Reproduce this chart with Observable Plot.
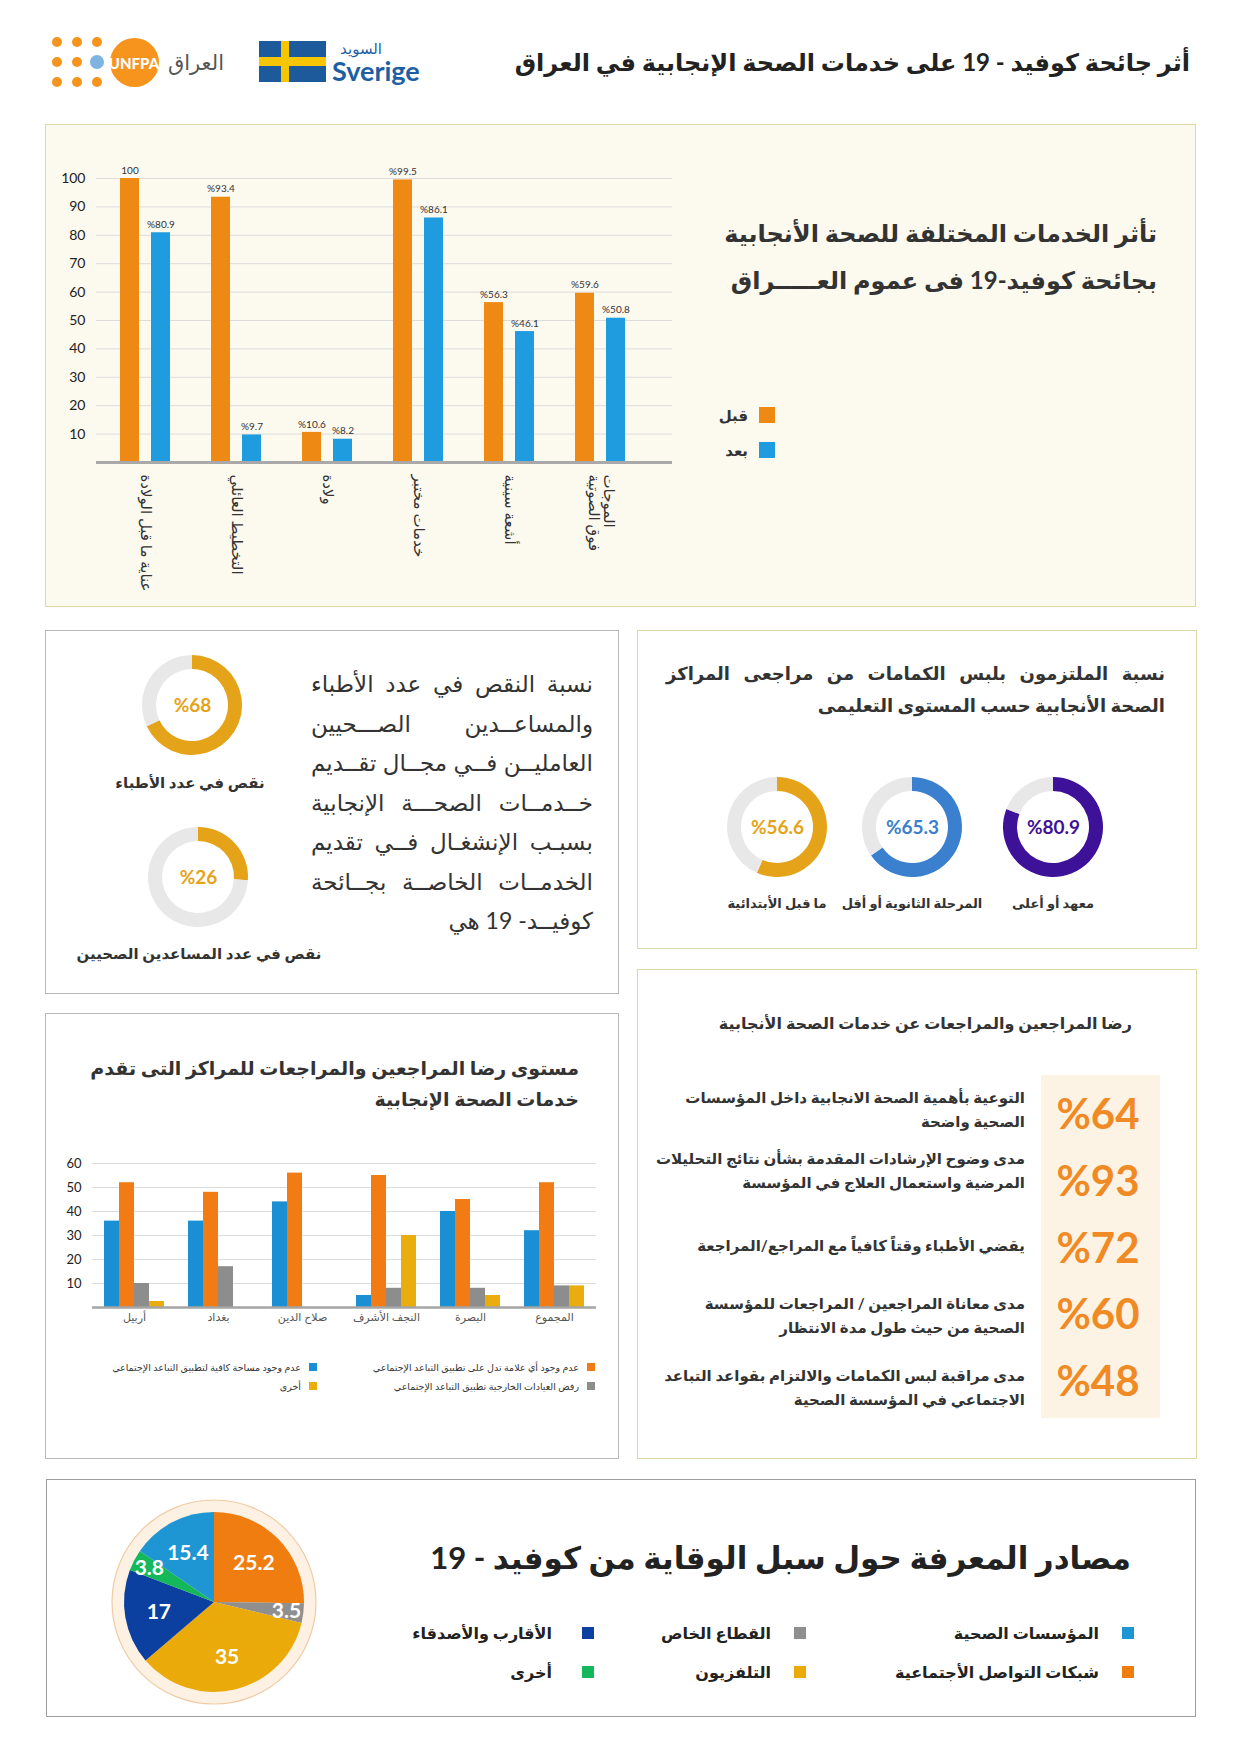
<!DOCTYPE html>
<html lang="ar"><head><meta charset="utf-8">
<script src="https://cdn.jsdelivr.net/npm/d3@7"></script>
<script src="https://cdn.jsdelivr.net/npm/@observablehq/plot@0.6"></script>
<style>
html,body{margin:0;padding:0;background:#fff}
#page{position:relative;width:1240px;height:1755px;overflow:hidden;font-family:Lato,"DejaVu Sans",sans-serif;color:#2b2b2b}
.t{position:absolute;white-space:nowrap;transform:translateY(-50%)}
</style></head><body><div id="page"></div>
<script>
const FONT = 'Lato, "DejaVu Sans", sans-serif';

// ---------------- data ----------------
const serviceCategories = ["عناية ما قبل الولادة", "التخطيط العائلي", "ولادة", "خدمات مختبر", "أشعة سينية", "الموجات فوق الصوتية"];
const serviceTickLabels = ["عناية ما قبل الولادة", "التخطيط العائلي", "ولادة", "خدمات مختبر", "أشعة سينية", "الموجات\nفوق الصوتية"];
const periods = ["قبل", "بعد"];
const beforeValues = [100, 93.4, 10.6, 99.5, 56.3, 59.6];
const afterValues = [80.9, 9.7, 8.2, 86.1, 46.1, 50.8];
const serviceTicks = [10, 20, 30, 40, 50, 60, 70, 80, 90, 100];

const staffLabels = ["نقص في عدد الأطباء", "نقص في عدد المساعدين الصحيين"];
const staffShortage = [68, 26];

const educationLevels = ["معهد أو أعلى", "المرحلة الثانوية أو أقل", "ما قبل الأبتدائية"];
const maskCompliance = [80.9, 65.3, 56.6];

const cities = ["أربيل", "بغداد", "صلاح الدين", "النجف الأشرف", "البصرة", "المجموع"];
const reasons = ["عدم وجود مساحة كافية لتطبيق التباعد الإجتماعي", "عدم وجود أي علامة تدل على تطبيق التباعد الإجتماعي", "رفض العيادات الخارجية تطبيق التباعد الإجتماعي", "أخرى"];
const noSpace = [36, 36, 44, 5, 40, 32];
const noSign = [52, 48, 56, 55, 45, 52];
const clinicRefusal = [10, 17, null, 8, 8, 9];
const otherReasons = [2.5, null, null, 30, 5, 9];
const cityTicks = [10, 20, 30, 40, 50, 60];

const satisfactionItems = [
  "التوعية بأهمية الصحة الانجابية داخل المؤسسات\nالصحية واضحة",
  "مدى وضوح الإرشادات المقدمة بشأن نتائج التحليلات\nالمرضية واستعمال العلاج في المؤسسة",
  "يقضي الأطباء وقتاً كافياً مع المراجع/المراجعة",
  "مدى معاناة المراجعين / المراجعات للمؤسسة\nالصحية من حيث طول مدة الانتظار",
  "مدى مراقبة لبس الكمامات والالتزام بقواعد التباعد\nالاجتماعي في المؤسسة الصحية"
];
const satisfactionValues = [64, 93, 72, 60, 48];

const sources = ["شبكات التواصل الأجتماعية", "القطاع الخاص", "التلفزيون", "الأقارب والأصدقاء", "أخرى", "المؤسسات الصحية"];
const sourceShares = [25.2, 3.5, 35, 17, 3.8, 15.4];
const sourceLegendColumns = [["المؤسسات الصحية", "شبكات التواصل الأجتماعية"], ["القطاع الخاص", "التلفزيون"], ["الأقارب والأصدقاء", "أخرى"]];

// ---------------- helpers ----------------
const page = document.getElementById("page");
const px = v => v + "px";
function rect(x, y, w, h, css = {}) {
  const e = document.createElement("div");
  Object.assign(e.style, {position: "absolute", left: px(x), top: px(y), width: px(w), height: px(h), boxSizing: "border-box"}, css);
  page.appendChild(e);
  return e;
}
function txt(str, o) {
  const e = document.createElement("div");
  e.className = "t";
  e.textContent = str;
  Object.assign(e.style, {fontSize: px(o.size), fontWeight: o.weight || 400, color: o.color || "#2b2b2b", top: px(o.cy), direction: o.dir || "rtl", lineHeight: o.lh ? px(o.lh) : "normal"});
  if (o.pre) e.style.whiteSpace = "pre";
  if (o.family) e.style.fontFamily = o.family;
  if (o.cx != null) { e.style.left = px(o.cx - 400); e.style.width = "800px"; e.style.textAlign = "center"; }
  else if (o.left != null && o.right != null) { e.style.left = px(o.left); e.style.width = px(o.right - o.left); e.style.textAlign = "justify"; e.style.textAlignLast = "justify"; }
  else if (o.right != null) { e.style.right = px(1240 - o.right); e.style.textAlign = "right"; }
  else { e.style.left = px(o.left); e.style.textAlign = "left"; }
  page.appendChild(e);
  return e;
}
function mount(svg, x, y) {
  Object.assign(svg.style, {position: "absolute", left: px(x), top: px(y)});
  page.appendChild(svg);
}

// ---------------- header ----------------
txt("أثر جائحة كوفيد - 19 على خدمات الصحة الإنجابية في العراق", {right: 1190, cy: 62, size: 24, weight: 700, color: "#222"});
// UNFPA mark
[[57, 42], [77, 42], [97, 42], [57, 62], [77, 62], [57, 82], [77, 82], [97, 82]].forEach(([x, y]) => rect(x - 5, y - 5, 10, 10, {borderRadius: "50%", background: "#f7941d"}));
rect(88, 53, 18, 18, {borderRadius: "50%", background: "#7fb3e0", border: "2px solid #fff"});
rect(110, 38, 49, 49, {borderRadius: "50%", background: "#f7941d"});
txt("UNFPA", {cx: 134, cy: 63, size: 15, weight: 900, color: "#fff", dir: "ltr"});
txt("العراق", {right: 224, cy: 62, size: 21, color: "#555"});
// Sweden mark
rect(259, 41, 67, 41, {background: "#1c5a9c"});
rect(281, 41, 8, 41, {background: "#f7c600"});
rect(259, 57, 67, 9, {background: "#f7c600"});
txt("السويد", {right: 382, cy: 48, size: 15, color: "#1e5fa3"});
txt("Sverige", {left: 332, cy: 70, size: 27, weight: 700, color: "#1e5fa3", dir: "ltr"});

// ---------------- panel 1: services before / after ----------------
rect(45, 124, 1151, 483, {background: "#fcf9ef", border: "1px solid #ddd8a6"});
txt("تأثر الخدمات المختلفة للصحة الأنجابية", {right: 1157, cy: 233, size: 24, weight: 700, color: "#333"});
txt("بجائحة كوفيد-19  فى عموم العـــــراق", {right: 1157, cy: 280, size: 24, weight: 700, color: "#333"});

const periodColor = Plot.scale({color: {type: "ordinal", domain: periods, range: ["#ee8a13", "#1f9be0"]}});
const serviceRows = serviceCategories.flatMap((category, i) => [
  {category, period: periods[0], value: beforeValues[i]},
  {category, period: periods[1], value: afterValues[i]}
]);
const beforeRows = serviceRows.filter(d => d.period === periods[0]);
const afterRows = serviceRows.filter(d => d.period === periods[1]);
const pctLabel = d => d.value === 100 ? "100" : "%" + d.value;

const chart1 = Plot.plot({
  width: 660, height: 483,
  marginLeft: 51, marginRight: 33, marginTop: 54, marginBottom: 145,
  style: {background: "transparent", fontFamily: FONT, overflow: "visible", color: "#222"},
  x: {domain: serviceCategories, paddingInner: 0, paddingOuter: 0.162, align: 0.14},
  y: {domain: [0, 100]},
  color: {domain: periods, range: periodColor.range},
  marks: [
    Plot.ruleY(serviceTicks, {stroke: "#dcdcdc", strokeWidth: 1}),
    Plot.barY(beforeRows, {x: "category", y: "value", fill: "period", insetLeft: 20, insetRight: 52}),
    Plot.barY(afterRows, {x: "category", y: "value", fill: "period", insetLeft: 51, insetRight: 21}),
    Plot.ruleY([0], {stroke: "#a9a9a9", strokeWidth: 3}),
    Plot.text(beforeRows, {x: "category", y: "value", text: pctLabel, dx: -16, dy: -8, fontSize: 10, fill: "#333"}),
    Plot.text(afterRows, {x: "category", y: "value", text: pctLabel, dx: 15, dy: -8, fontSize: 10, fill: "#333"}),
    Plot.axisY({ticks: serviceTicks, tickSize: 0, tickPadding: 11, fontSize: 14, label: null}),
    Plot.axisX({tickSize: 0, tickRotate: 90, tickPadding: 12, fontSize: 15, label: null, fill: "#333",
      tickFormat: d => serviceTickLabels[serviceCategories.indexOf(d)]})
  ]
});
mount(chart1, 45, 124);

periods.forEach((p, i) => {
  rect(759, 407 + i * 35, 16, 16, {background: periodColor.apply(p)});
  txt(p, {right: 748, cy: 415 + i * 35, size: 15, weight: 700, color: "#333"});
});

// ---------------- donut helper ----------------
function donut(value, color, cx, cy) {
  const R = 50, T = 14, S = 2 * R + 4;
  const svg = Plot.plot({
    width: S, height: S, margin: 0,
    style: {background: "transparent", fontFamily: FONT, overflow: "visible"},
    marks: [
      (index, scales, values, dims) => {
        const g = d3.create("svg:g").attr("transform", `translate(${dims.width / 2},${dims.height / 2})`);
        const arcs = d3.pie().sort(null)([value, 100 - value]);
        const arc = d3.arc().innerRadius(R - T).outerRadius(R);
        g.selectAll("path").data(arcs).join("path").attr("d", arc).attr("fill", (d, i) => i === 0 ? color : "#e8e8e8");
        return g.node();
      },
      Plot.text([value], {frameAnchor: "middle", text: d => "%" + d, fill: color, fontSize: 19, fontWeight: "bold"})
    ]
  });
  mount(svg, cx - S / 2, cy - S / 2);
}

// ---------------- panel 2: staff shortage ----------------
rect(45, 630, 574, 364, {background: "#fff", border: "1px solid #b9b9b9"});
const paraLines = [
  "نسبة النقص في عدد الأطباء",
  "والمساعــدين الصـــحيين",
  "العامليــن فــي مجــال تقــديم",
  "خــدمــات الصحـــة الإنجابية",
  "بسبـب الإنشغـال فــي تقديم",
  "الخدمــات الخاصــة بجــائحة"
];
paraLines.forEach((line, i) => txt(line, {left: 311, right: 593, cy: 683 + i * 39.5, size: 23, color: "#333"}));
txt("كوفيــد- 19 هي", {right: 593, cy: 920, size: 23, color: "#333"});

const staffGold = "#e5a31a";
donut(staffShortage[0], staffGold, 192, 705);
txt(staffLabels[0], {cx: 190, cy: 782, size: 15, weight: 700, color: "#333"});
donut(staffShortage[1], staffGold, 198, 877);
txt(staffLabels[1], {cx: 199, cy: 953, size: 15, weight: 700, color: "#333"});

// ---------------- panel 3: masks by education ----------------
rect(637, 630, 560, 319, {background: "#fff", border: "1px solid #ddd8a6"});
txt("نسبة الملتزمون بلبس الكمامات من مراجعى المراكز", {left: 666, right: 1165, cy: 673, size: 18, weight: 700, color: "#333"});
txt("الصحة الأنجابية حسب المستوى التعليمى", {right: 1165, cy: 705, size: 18, weight: 700, color: "#333"});
const eduColors = ["#3d1298", "#3a80cf", "#e5a31a"];
const eduX = [1053, 912, 777];
educationLevels.forEach((lvl, i) => {
  donut(maskCompliance[i], eduColors[i], eduX[i], 827);
  txt(lvl, {cx: eduX[i], cy: 903, size: 13, weight: 700, color: "#333"});
});

// ---------------- panel 4: satisfaction by city ----------------
rect(45, 1013, 574, 446, {background: "#fff", border: "1px solid #b9b9b9"});
txt("مستوى رضا المراجعين والمراجعات للمراكز التى تقدم", {left: 96, right: 579, cy: 1067, size: 19, weight: 700, color: "#333"});
txt("خدمات الصحة الإنجابية", {right: 579, cy: 1098, size: 19, weight: 700, color: "#333"});

const reasonColor = Plot.scale({color: {type: "ordinal", domain: reasons, range: ["#1b8fd3", "#f27c13", "#8d8d8d", "#ebad0e"]}});
const reasonSeries = [noSpace, noSign, clinicRefusal, otherReasons];
const cityRows = cities.flatMap((city, i) => reasons.map((reason, j) => ({city, reason, value: reasonSeries[j][i]})))
  .filter(d => d.value != null);

const chart2 = Plot.plot({
  width: 575, height: 190,
  marginLeft: 47, marginRight: 22, marginTop: 23, marginBottom: 23,
  style: {background: "transparent", fontFamily: FONT, overflow: "visible", color: "#222"},
  fx: {domain: cities, paddingInner: 0, paddingOuter: 0, label: null},
  x: {domain: reasons, paddingInner: 0, paddingOuter: 0.668, axis: null},
  y: {domain: [0, 60]},
  color: {domain: reasons, range: reasonColor.range},
  marks: [
    Plot.ruleY(cityTicks, {stroke: "#dcdcdc", strokeWidth: 1}),
    Plot.barY(cityRows, {fx: "city", x: "reason", y: "value", fill: "reason"}),
    Plot.ruleY([0], {stroke: "#a5a5a5", strokeWidth: 2.5}),
    Plot.axisY({ticks: cityTicks, tickSize: 0, tickPadding: 11, fontSize: 13, label: null}),
    Plot.axisFx({anchor: "bottom", tickSize: 0, tickPadding: 6, fontSize: 11, label: null, fill: "#555"})
  ]
});
mount(chart2, 44, 1140);

// legend (2 x 2, right to left)
const reasonLegendPos = [[309, 301, 1367], [587, 579, 1367], [587, 579, 1385.5], [309, 301, 1385.5]];
reasons.forEach((r, i) => {
  const [sq, tr, cy] = reasonLegendPos[i];
  rect(sq, cy - 4, 8, 8, {background: reasonColor.apply(r)});
  txt(r, {right: tr, cy, size: 9.5, color: "#333"});
});

// ---------------- panel 5: satisfaction list ----------------
rect(637, 969, 560, 490, {background: "#fff", border: "1px solid #ddd8a6"});
txt("رضا المراجعين والمراجعات عن خدمات الصحة الأنجابية", {right: 1132, cy: 1023, size: 16, weight: 700, color: "#333"});
rect(1041, 1075, 119, 343, {background: "#fdf3e5"});
const itemCenters = [1109, 1170, 1245, 1315, 1387];
const valueCenters = [1113, 1180, 1247, 1313, 1380];
satisfactionItems.forEach((item, i) => {
  txt(item, {right: 1025, cy: itemCenters[i], size: 15, weight: 700, color: "#333", lh: 24, pre: true});
  txt("%" + satisfactionValues[i], {cx: 1098, cy: valueCenters[i], size: 42, weight: 700, color: "#f08a24", dir: "ltr"});
});

// ---------------- panel 6: knowledge sources pie ----------------
rect(46, 1479, 1150, 238, {background: "#fff", border: "1px solid #9d9d9d"});
txt("مصادر المعرفة حول سبل الوقاية من كوفيد - 19", {right: 1131, cy: 1557, size: 31, weight: 700, color: "#222"});

const sourceColor = Plot.scale({color: {type: "ordinal", domain: sources, range: ["#f07d10", "#8f8f8f", "#eaaa0a", "#0b3fa0", "#14b85a", "#1e96d4"]}});
const sourceRows = sources.map((source, i) => ({source, share: sourceShares[i]}));
const pie = Plot.plot({
  width: 230, height: 230, margin: 0,
  style: {background: "transparent", fontFamily: FONT, overflow: "visible"},
  marks: [
    (index, scales, values, dims) => {
      const g = d3.create("svg:g").attr("transform", `translate(${dims.width / 2},${dims.height / 2})`);
      g.append("circle").attr("r", 102).attr("fill", "#fdf1e3").attr("stroke", "#f0cba4").attr("stroke-width", 1.2);
      const arcs = d3.pie().sort(null).value(d => d.share)(sourceRows);
      const arc = d3.arc().innerRadius(0).outerRadius(90);
      const bigLabel = d3.arc().innerRadius(12).outerRadius(100);
      const smallLabel = d3.arc().innerRadius(50).outerRadius(96);
      g.selectAll("path").data(arcs).join("path").attr("d", arc).attr("fill", d => sourceColor.apply(d.data.source));
      g.selectAll("text").data(arcs).join("text")
        .attr("transform", d => `translate(${(d.data.share < 5 ? smallLabel : bigLabel).centroid(d)})`)
        .attr("text-anchor", "middle").attr("dy", "0.35em")
        .attr("fill", "#fff").attr("font-size", 21).attr("font-weight", "bold")
        .text(d => d.data.share);
      return g.node();
    }
  ]
});
mount(pie, 214 - 115, 1602 - 115);

const legendSquares = [1122, 794, 582];
const legendTextRight = [1099, 771, 552];
const legendRows = [1633, 1672];
sourceLegendColumns.forEach((col, c) => col.forEach((name, r) => {
  rect(legendSquares[c], legendRows[r] - 6, 12, 12, {background: sourceColor.apply(name)});
  txt(name, {right: legendTextRight[c], cy: legendRows[r], size: 16, weight: 700, color: "#222"});
}));
</script></body></html>
